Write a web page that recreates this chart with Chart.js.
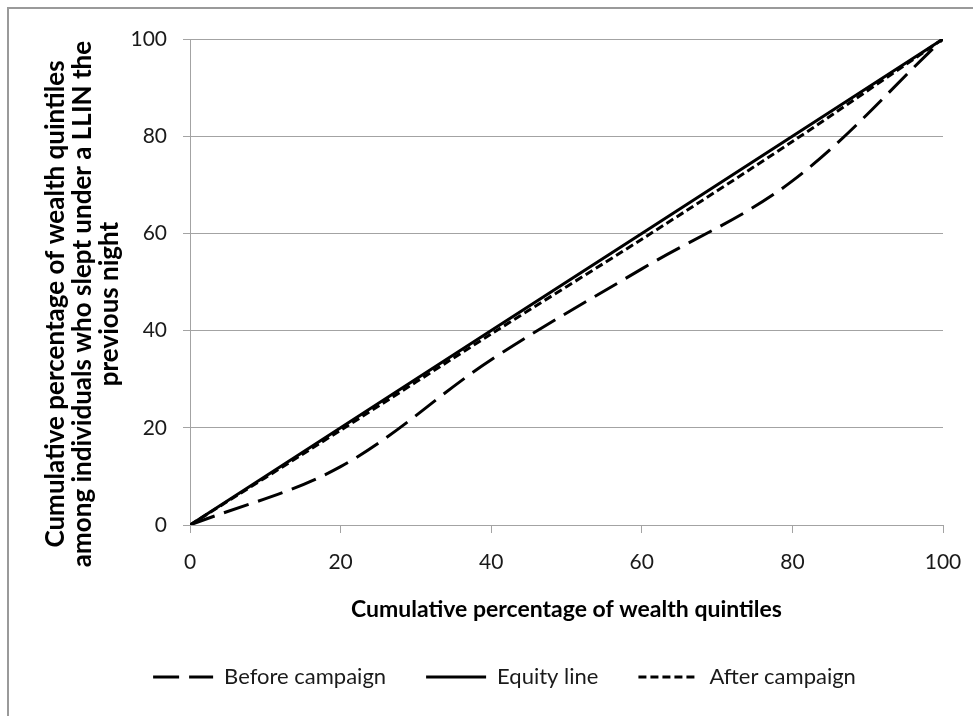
<!DOCTYPE html>
<html>
<head>
<meta charset="utf-8">
<script src="https://cdn.jsdelivr.net/npm/chart.js@4.4.1/dist/chart.umd.min.js"></script>
<style>
  html, body { margin: 0; padding: 0; background: #fff; }
  #wrap { position: relative; width: 973px; height: 716px; }
  #frame { position: absolute; left: 7px; top: 7px; right: 0; bottom: 0;
           border-left: 2px solid #9a9a9a; border-top: 2px solid #9a9a9a; pointer-events: none; }
  canvas { display: block; }
</style>
</head>
<body>
<div id="wrap">
  <canvas id="lorenz" width="973" height="716"></canvas>
  <div id="frame"></div>
</div>
<script>
// cumulative % of wealth quintiles (x) against cumulative % of LLIN users (y)
const quintilePct = [0, 20, 40, 60, 80, 100];
const beforeCampaign = [0, 12, 34, 52.7, 70.8, 100];
const equityLine = [0, 20, 40, 60, 80, 100];
const afterCampaign = [0, 19.5, 39.3, 58.8, 78.9, 100];
const seriesNames = ["Before campaign", "Equity line", "After campaign"];

const xTitle = "Cumulative percentage of wealth quintiles";
const yTitle = ["Cumulative percentage of wealth quintiles",
                "among individuals who slept under a LLIN the",
                "previous night"];

const FONT = "Lato, 'Open Sans', sans-serif";
const GRID = "#a3a3a3";
const TEXT = "#1a1a1a";

function toPoints(values) {
  return quintilePct.map((x, i) => ({ x: x, y: values[i] }));
}

// nudge legend so it sits where the original one is
const legendShift = {
  id: "legendShift",
  afterLayout(chart) {
    const lg = chart.legend;
    if (!lg) return;
    lg.left += 28;
    lg.right += 28;
  }
};

// y title sits a little below the axis middle in the original, so draw it here
const yAxisTitle = {
  id: "yAxisTitle",
  afterDraw(chart) {
    const c = chart.ctx;
    const area = chart.chartArea;
    const lineH = 27;
    c.save();
    c.translate(chart.scales.y.left + 46, (area.top + area.bottom) / 2 + 22);
    c.rotate(-Math.PI / 2);
    c.font = "bold 26px " + FONT;
    c.fillStyle = "#000";
    c.textAlign = "center";
    c.textBaseline = "middle";
    yTitle.forEach((line, i) => c.fillText(line, 0, i * lineH));
    c.restore();
  }
};

const ctx = document.getElementById("lorenz").getContext("2d");
new Chart(ctx, {
  type: "line",
  data: {
    datasets: [
      {
        label: seriesNames[0],
        data: toPoints(beforeCampaign),
        borderColor: "#000",
        backgroundColor: "#000",
        borderWidth: 3,
        borderDash: [26, 10],
        tension: 0.35,
        pointRadius: 0
      },
      {
        label: seriesNames[1],
        data: toPoints(equityLine),
        borderColor: "#000",
        backgroundColor: "#000",
        borderWidth: 3,
        tension: 0,
        pointRadius: 0
      },
      {
        label: seriesNames[2],
        data: toPoints(afterCampaign),
        borderColor: "#000",
        backgroundColor: "#000",
        borderWidth: 3,
        borderDash: [8, 4],
        tension: 0.3,
        pointRadius: 0
      }
    ]
  },
  options: {
    responsive: false,
    animation: false,
    layout: { padding: { left: 10, right: 30, top: 39, bottom: 18 } },
    plugins: {
      tooltip: { enabled: false },
      legend: {
        position: "bottom",
        labels: {
          usePointStyle: true,
          pointStyleWidth: 60,
          padding: 40,
          color: TEXT,
          font: { family: FONT, size: 22 },
          generateLabels(chart) {
            const items = Chart.defaults.plugins.legend.labels.generateLabels(chart);
            items.forEach(it => {
              const ds = chart.data.datasets[it.datasetIndex];
              it.pointStyle = "line";
              it.lineDash = ds.borderDash || [];
              it.lineWidth = ds.borderWidth;
              it.strokeStyle = ds.borderColor;
            });
            return items;
          }
        }
      }
    },
    scales: {
      x: {
        type: "linear",
        min: 0,
        max: 100,
        afterFit: s => { s.height = 101; s.paddingLeft = 0; s.paddingRight = 0; },
        ticks: { stepSize: 20, color: TEXT, padding: 17, font: { family: FONT, size: 21 } },
        grid: { drawOnChartArea: false, drawTicks: true, tickLength: 8, color: GRID },
        border: { color: GRID, width: 1 },
        title: {
          display: true,
          text: xTitle,
          color: "#000",
          padding: { top: 0, bottom: 3 },
          font: { family: FONT, size: 23, weight: "bold" }
        }
      },
      y: {
        min: 0,
        max: 100,
        afterFit: s => { s.width = 180; },
        ticks: { stepSize: 20, color: TEXT, padding: 16, font: { family: FONT, size: 21 } },
        grid: { color: GRID, tickLength: 7 },
        border: { color: GRID, width: 1 },
        title: { display: false }
      }
    }
  },
  plugins: [legendShift, yAxisTitle]
});
</script>
</body>
</html>
